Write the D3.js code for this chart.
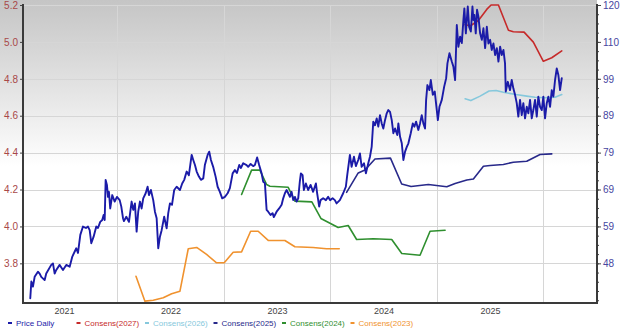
<!DOCTYPE html>
<html>
<head>
<meta charset="utf-8">
<script src="https://cdn.jsdelivr.net/npm/d3@7"></script>
<style>
  html, body { margin: 0; padding: 0; background: #fff; }
  svg { display: block; font-family: "Liberation Sans", Arial, sans-serif; }
</style>
</head>
<body>
<svg id="chart" width="620" height="331"></svg>
<script>
// ---- data: [decimal year, value] ----
const priceDaily = [
  [2021.183,38.9],[2021.193,43.5],[2021.208,42.1],[2021.224,44.8],[2021.255,46.2],[2021.271,45.7],[2021.286,44.8],[2021.318,43.9],
  [2021.333,45.7],[2021.380,48.1],[2021.396,48.5],[2021.412,45.7],[2021.427,46.7],[2021.459,48.1],[2021.490,46.7],[2021.521,48.1],
  [2021.553,47.6],[2021.578,50.4],[2021.615,52.7],[2021.631,51.4],[2021.653,56.4],[2021.678,58.7],[2021.706,58.3],[2021.725,58.7],
  [2021.741,57.7],[2021.756,54.1],[2021.778,55.9],[2021.803,58.7],[2021.819,58.3],[2021.840,60.0],[2021.859,60.5],[2021.872,61.9],
  [2021.882,60.5],[2021.891,71.6],[2021.903,70.2],[2021.913,66.9],[2021.922,68.3],[2021.934,63.7],[2021.953,67.4],[2021.976,65.6],
  [2021.997,66.9],[2022.023,66.0],[2022.038,64.2],[2022.054,61.0],[2022.063,60.2],[2022.085,61.4],[2022.110,60.0],[2022.135,65.6],
  [2022.150,63.3],[2022.166,65.1],[2022.182,57.3],[2022.197,62.8],[2022.213,65.6],[2022.229,63.7],[2022.244,66.5],[2022.267,67.9],
  [2022.285,69.7],[2022.298,67.4],[2022.316,68.8],[2022.338,66.0],[2022.354,62.8],[2022.370,61.0],[2022.385,52.7],[2022.401,55.9],
  [2022.417,57.7],[2022.441,61.4],[2022.464,58.2],[2022.479,62.4],[2022.495,65.1],[2022.514,64.7],[2022.535,68.8],[2022.558,69.7],
  [2022.589,68.8],[2022.610,70.6],[2022.629,71.6],[2022.652,73.9],[2022.673,72.9],[2022.699,78.5],[2022.714,77.1],[2022.730,75.7],
  [2022.746,73.9],[2022.767,72.5],[2022.786,71.6],[2022.808,72.0],[2022.823,75.7],[2022.849,78.5],[2022.864,79.4],[2022.880,77.1],
  [2022.901,75.2],[2022.924,72.5],[2022.943,69.7],[2022.964,68.3],[2022.986,66.5],[2023.011,66.9],[2023.037,67.9],[2023.058,69.3],
  [2023.084,73.4],[2023.105,74.3],[2023.124,73.5],[2023.146,75.7],[2023.162,74.9],[2023.183,76.2],[2023.215,75.7],[2023.230,75.2],
  [2023.253,76.0],[2023.277,75.4],[2023.293,75.7],[2023.314,77.8],[2023.333,75.7],[2023.356,73.4],[2023.371,71.1],[2023.387,70.7],
  [2023.403,63.3],[2023.418,62.8],[2023.440,61.9],[2023.459,62.4],[2023.471,61.3],[2023.497,62.8],[2023.521,63.7],[2023.544,64.7],
  [2023.559,66.5],[2023.575,67.9],[2023.591,68.8],[2023.606,67.9],[2023.622,66.9],[2023.638,68.3],[2023.653,66.0],[2023.669,66.9],
  [2023.685,65.6],[2023.700,66.5],[2023.715,71.1],[2023.725,73.4],[2023.741,72.9],[2023.753,68.8],[2023.772,70.6],[2023.793,68.8],
  [2023.816,70.2],[2023.840,68.3],[2023.866,70.6],[2023.878,67.9],[2023.897,64.2],[2023.910,66.0],[2023.934,66.5],[2023.960,66.0],
  [2023.981,66.9],[2024.000,66.0],[2024.023,66.5],[2024.044,66.0],[2024.060,65.1],[2024.091,66.0],[2024.122,67.9],[2024.147,69.7],
  [2024.160,72.9],[2024.185,78.5],[2024.201,75.2],[2024.223,78.0],[2024.241,75.4],[2024.263,77.1],[2024.279,78.9],[2024.295,75.2],
  [2024.317,76.2],[2024.335,73.4],[2024.357,76.2],[2024.373,78.0],[2024.389,80.7],[2024.404,87.7],[2024.420,86.7],[2024.436,88.6],
  [2024.451,86.3],[2024.467,89.5],[2024.483,87.2],[2024.498,85.8],[2024.514,88.1],[2024.530,90.0],[2024.545,90.9],[2024.561,90.4],
  [2024.577,88.1],[2024.592,84.5],[2024.608,85.8],[2024.629,84.0],[2024.639,87.2],[2024.655,83.5],[2024.671,81.7],[2024.686,77.1],
  [2024.702,79.4],[2024.718,80.7],[2024.733,81.7],[2024.755,84.5],[2024.774,87.2],[2024.789,86.3],[2024.805,87.7],[2024.826,85.4],
  [2024.842,87.2],[2024.858,89.5],[2024.873,87.2],[2024.889,85.8],[2024.899,93.7],[2024.911,97.8],[2024.930,96.4],[2024.943,99.2],
  [2024.962,95.1],[2024.980,96.0],[2024.999,90.9],[2025.009,88.1],[2025.024,91.8],[2025.046,93.7],[2025.068,97.3],[2025.087,99.7],
  [2025.099,103.8],[2025.118,106.6],[2025.140,104.3],[2025.155,102.9],[2025.171,99.2],[2025.187,114.4],[2025.202,108.4],[2025.218,111.2],
  [2025.234,109.4],[2025.249,115.8],[2025.258,119.0],[2025.272,112.1],[2025.290,119.5],[2025.303,113.9],[2025.319,112.6],[2025.334,119.5],
  [2025.343,115.8],[2025.352,117.2],[2025.365,112.1],[2025.377,118.6],[2025.390,116.7],[2025.406,112.1],[2025.422,110.3],[2025.437,113.5],
  [2025.453,108.0],[2025.469,113.9],[2025.484,109.3],[2025.500,110.3],[2025.515,107.5],[2025.531,109.3],[2025.547,106.1],[2025.563,108.0],
  [2025.578,104.3],[2025.594,108.4],[2025.609,106.1],[2025.625,107.5],[2025.640,103.8],[2025.647,96.0],[2025.666,98.7],[2025.687,96.4],
  [2025.703,99.2],[2025.718,96.9],[2025.734,95.1],[2025.750,92.8],[2025.765,89.1],[2025.781,93.7],[2025.797,89.5],[2025.812,92.8],
  [2025.828,88.6],[2025.844,91.8],[2025.859,90.0],[2025.875,93.7],[2025.891,88.6],[2025.906,90.9],[2025.922,93.7],[2025.938,89.1],
  [2025.953,94.6],[2025.969,91.8],[2025.985,90.9],[2026.000,94.6],[2026.016,88.6],[2026.032,92.8],[2026.047,94.6],[2026.063,91.8],
  [2026.079,96.4],[2026.094,94.6],[2026.110,99.2],[2026.126,102.4],[2026.141,100.6],[2026.157,96.4],[2026.173,99.7]
];

const consens2027 = [
  [2025.265,5.094],[2025.312,5.086],[2025.390,5.116],[2025.468,5.176],[2025.509,5.200],[2025.578,5.200],
  [2025.672,5.063],[2025.718,5.055],[2025.819,5.053],[2025.906,4.999],[2026.000,4.895],[2026.079,4.914],[2026.173,4.951]
];
const consens2026 = [
  [2025.265,4.692],[2025.319,4.682],[2025.406,4.706],[2025.490,4.734],[2025.556,4.737],[2025.624,4.727],
  [2025.742,4.715],[2025.844,4.706],[2025.922,4.700],[2026.016,4.697],[2026.110,4.700],[2026.173,4.715]
];
const consens2025 = [
  [2024.154,4.185],[2024.263,4.290],[2024.326,4.306],[2024.420,4.365],[2024.565,4.370],[2024.670,4.230],
  [2024.758,4.216],[2024.920,4.227],[2025.093,4.215],[2025.171,4.233],[2025.281,4.252],[2025.343,4.257],
  [2025.437,4.326],[2025.500,4.330],[2025.624,4.336],[2025.718,4.348],[2025.844,4.353],[2025.969,4.390],[2026.079,4.393]
];
const consens2024 = [
  [2023.168,4.173],[2023.262,4.305],[2023.340,4.305],[2023.403,4.227],[2023.434,4.218],[2023.606,4.212],
  [2023.669,4.137],[2023.828,4.133],[2023.913,4.043],[2024.075,3.994],[2024.169,4.005],[2024.248,3.929],
  [2024.404,3.933],[2024.577,3.929],[2024.671,3.853],[2024.842,3.844],[2024.936,3.974],[2025.077,3.979]
];
const consens2023 = [
  [2022.176,3.730],[2022.260,3.595],[2022.338,3.600],[2022.432,3.613],[2022.511,3.635],[2022.589,3.649],
  [2022.667,3.879],[2022.746,3.886],[2022.839,3.848],[2022.933,3.803],[2023.005,3.803],[2023.089,3.860],
  [2023.168,3.862],[2023.253,3.974],[2023.324,3.974],[2023.418,3.924],[2023.575,3.924],[2023.669,3.890],
  [2023.840,3.886],[2023.966,3.879],[2024.085,3.879]
];

// ---- axis labels ----
const epsTicks = [3.8, 4.0, 4.2, 4.4, 4.6, 4.8, 5.0, 5.2];
const priceTickLabels = ["48", "59", "69", "79", "89", "99", "110", "120"];
const yearLabels = [2021, 2022, 2023, 2024, 2025];
const yearBounds = [2022, 2023, 2024, 2025, 2026];

const legendNames = ["Price Daily", "Consens(2027)", "Consens(2026)", "Consens(2025)", "Consens(2024)", "Consens(2023)"];

// ---- styling ----
const colors = {
  price: "#1b1ba8",
  c2027: "#c62a2a",
  c2026: "#86c8dc",
  c2025: "#28298a",
  c2024: "#2f8f2f",
  c2023: "#f0922e"
};
const legendColors = [colors.price, colors.c2027, colors.c2026, colors.c2025, colors.c2024, colors.c2023];

const plot = { left: 23, right: 597, top: 5, bottom: 303 };

// decimal year -> Date (UTC)
function toDate(y) {
  const yr = Math.floor(y);
  const s = Date.UTC(yr, 0, 1), e = Date.UTC(yr + 1, 0, 1);
  return new Date(s + (y - yr) * (e - s));
}

const x = d3.scaleUtc().domain([toDate(2021.1146), toDate(2026.504)]).range([plot.left, plot.right]);
const yEps = d3.scaleLinear().domain([3.585, 5.2]).range([plot.bottom, plot.top]);
const yPrice = d3.scaleLinear().domain([37.57, 119.93]).range([plot.bottom, plot.top]);

const svg = d3.select("#chart");

// background gradient
const defs = svg.append("defs");
const grad = defs.append("linearGradient")
  .attr("id", "bg").attr("gradientUnits", "userSpaceOnUse")
  .attr("x1", 0).attr("y1", 0).attr("x2", 0).attr("y2", plot.bottom);
grad.append("stop").attr("offset", 0).attr("stop-color", "#c5c5c5");
grad.append("stop").attr("offset", 0.28).attr("stop-color", "#e2e2e2");
grad.append("stop").attr("offset", 0.55).attr("stop-color", "#ffffff");
grad.append("stop").attr("offset", 1).attr("stop-color", "#ffffff");

defs.append("clipPath").attr("id", "plotClip")
  .append("rect")
  .attr("x", plot.left).attr("y", plot.top - 1)
  .attr("width", plot.right - plot.left).attr("height", plot.bottom - plot.top + 1);

svg.append("rect")
  .attr("x", 0).attr("y", 0)
  .attr("width", plot.right).attr("height", plot.bottom)
  .attr("fill", "url(#bg)");

// grid
const grid = svg.append("g").attr("stroke", "#d6d6d6").attr("stroke-width", 1);
grid.selectAll("line.h").data(epsTicks).join("line")
  .attr("x1", plot.left).attr("x2", plot.right)
  .attr("y1", d => Math.round(yEps(d)) + 0.5).attr("y2", d => Math.round(yEps(d)) + 0.5);
grid.selectAll("line.v").data(yearBounds).join("line")
  .attr("x1", d => Math.round(x(toDate(d))) + 0.5).attr("x2", d => Math.round(x(toDate(d))) + 0.5)
  .attr("y1", plot.top).attr("y2", plot.bottom);

// series
const lineEps = d3.line().x(d => x(toDate(d[0]))).y(d => yEps(d[1]));
const linePrice = d3.line().x(d => x(toDate(d[0]))).y(d => yPrice(d[1]));

const marks = svg.append("g").attr("clip-path", "url(#plotClip)")
  .attr("fill", "none").attr("stroke-linejoin", "round").attr("stroke-linecap", "round");

[[consens2023, colors.c2023], [consens2024, colors.c2024], [consens2025, colors.c2025],
 [consens2026, colors.c2026], [consens2027, colors.c2027]].forEach(([data, c]) => {
  marks.append("path").datum(data).attr("d", lineEps)
    .attr("stroke", c).attr("stroke-width", 1.6);
});
marks.append("path").datum(priceDaily).attr("d", linePrice)
  .attr("stroke", colors.price).attr("stroke-width", 1.9);

// axes
const axisFont = 10;
const gLeft = svg.append("g").attr("transform", `translate(${plot.left},0)`)
  .call(d3.axisLeft(yEps).tickValues(epsTicks).tickFormat(d3.format(".1f")).tickSize(3).tickPadding(2));
gLeft.select(".domain").remove();
gLeft.selectAll("line").attr("stroke", "#444");
gLeft.selectAll("text").attr("fill", "#a84848").attr("font-size", axisFont);

const gRightMinor = svg.append("g").attr("transform", `translate(${plot.right},0)`)
  .call(d3.axisRight(yEps).tickValues(d3.range(3.6, 5.201, 0.05)).tickFormat("").tickSize(2));
gRightMinor.select(".domain").remove();
gRightMinor.selectAll("line").attr("stroke", "#444");

const gRight = svg.append("g").attr("transform", `translate(${plot.right},0)`)
  .call(d3.axisRight(yEps).tickValues(epsTicks).tickFormat((d, i) => priceTickLabels[i]).tickSize(4).tickPadding(2));
gRight.select(".domain").remove();
gRight.selectAll("line").attr("stroke", "#444");
gRight.selectAll("text").attr("fill", "#4646a0").attr("font-size", axisFont);

const gBottom = svg.append("g").attr("transform", `translate(0,${plot.bottom})`)
  .call(d3.axisBottom(x).tickValues(yearLabels.map(y => toDate(y + 0.5))).tickFormat(d3.utcFormat("%Y")).tickSize(0).tickPadding(5));
gBottom.select(".domain").remove();
gBottom.selectAll("text").attr("fill", "#444").attr("font-size", 9);

// frame: left, bottom, right
svg.append("path")
  .attr("d", `M${plot.left},${plot.top - 1}V${plot.bottom}H${plot.right}V${plot.top - 1}`)
  .attr("fill", "none").attr("stroke", "#3a3a3a").attr("stroke-width", 2);

// legend
const legend = svg.append("g").attr("transform", "translate(0,323)");
const item = legend.selectAll("g").data(legendNames).join("g")
  .attr("transform", (d, i) => `translate(${8 + i * 68.5},0)`);
item.append("line").attr("x1", 0).attr("x2", 4).attr("y1", 0).attr("y2", 0)
  .attr("stroke", (d, i) => legendColors[i]).attr("stroke-width", 2);
item.append("text").attr("x", 8).attr("dy", "0.35em")
  .attr("font-size", 8).attr("fill", (d, i) => legendColors[i])
  .text(d => d);
</script>
</body>
</html>
